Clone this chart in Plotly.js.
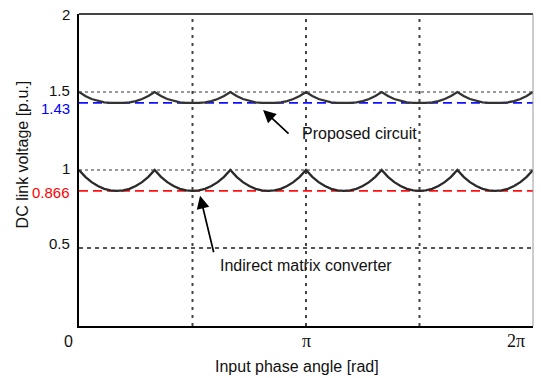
<!DOCTYPE html>
<html>
<head>
<meta charset="utf-8">
<script src="https://cdn.plot.ly/plotly-3.0.1.min.js"></script>
<style>html,body{margin:0;padding:0;background:#fff;}#chart{width:541px;height:378px;}</style>
</head>
<body>
<div id="chart"></div>
<script>
// Input phase angle samples, in degrees (0 .. 360, every 5 degrees)
const angleDeg = [0,5,10,15,20,25,30,35,40,45,50,55,60,65,70,75,80,85,90,95,100,105,110,115,120,
  125,130,135,140,145,150,155,160,165,170,175,180,185,190,195,200,205,210,215,220,225,230,235,240,
  245,250,255,260,265,270,275,280,285,290,295,300,305,310,315,320,325,330,335,340,345,350,355,360];

// DC link voltage of the proposed circuit [p.u.]
const proposedV = [1.500,1.474,1.455,1.442,1.434,1.430,1.429,1.430,1.434,1.442,1.455,1.474,
  1.500,1.474,1.455,1.442,1.434,1.430,1.429,1.430,1.434,1.442,1.455,1.474,
  1.500,1.474,1.455,1.442,1.434,1.430,1.429,1.430,1.434,1.442,1.455,1.474,
  1.500,1.474,1.455,1.442,1.434,1.430,1.429,1.430,1.434,1.442,1.455,1.474,
  1.500,1.474,1.455,1.442,1.434,1.430,1.429,1.430,1.434,1.442,1.455,1.474,
  1.500,1.474,1.455,1.442,1.434,1.430,1.429,1.430,1.434,1.442,1.455,1.474,
  1.500];

// DC link voltage of the indirect matrix converter [p.u.]
const imcV = [1.000,0.956,0.922,0.897,0.879,0.869,0.866,0.869,0.879,0.897,0.922,0.956,
  1.000,0.956,0.922,0.897,0.879,0.869,0.866,0.869,0.879,0.897,0.922,0.956,
  1.000,0.956,0.922,0.897,0.879,0.869,0.866,0.869,0.879,0.897,0.922,0.956,
  1.000,0.956,0.922,0.897,0.879,0.869,0.866,0.869,0.879,0.897,0.922,0.956,
  1.000,0.956,0.922,0.897,0.879,0.869,0.866,0.869,0.879,0.897,0.922,0.956,
  1.000,0.956,0.922,0.897,0.879,0.869,0.866,0.869,0.879,0.897,0.922,0.956,
  1.000];

// Reference (minimum) levels
const proposedMin = 1.43;
const imcMin = 0.866;

// Axis tick labels
const yTickVals = [2, 1.5, 1.43, 1, 0.866, 0.5];
const yTickText = ['2', '1.5', '1.43', '1', '0.866', '0.5'];
const yTickColors = ['#111', '#111', '#0000ff', '#111', '#ff0000', '#111'];
const yTickNudge = [0, 2, -6, 2, -2, 5];   // label offsets in px (as typeset in the reference)
const xTickVals = [0, Math.PI, 2 * Math.PI];
const xTickText = ['0', 'π', '2π'];
const xTickNudge = [-11, 0, -17];

// Grid levels
const hGridLight = [1.0, 1.5];
const hGridDark = [0.5];
const vGrid = [Math.PI / 2, Math.PI, 3 * Math.PI / 2];

const x = angleDeg.map(d => d * Math.PI / 180);
const xEnds = [0, 2 * Math.PI];

function mkFont(size, color, family) {
  return {family: family || 'Liberation Sans, Arial, sans-serif', size: size, color: color || '#111'};
}
const SERIF = 'Liberation Serif, Times New Roman, serif';

const traces = [
  {x: xEnds, y: [proposedMin, proposedMin], mode: 'lines',
   line: {color: '#1010ff', width: 1.8, dash: '9px,5px'}, hoverinfo: 'skip'},
  {x: xEnds, y: [imcMin, imcMin], mode: 'lines',
   line: {color: '#ff1010', width: 1.8, dash: '9px,5px'}, hoverinfo: 'skip'},
  {x: x, y: proposedV, mode: 'lines', line: {color: '#333333', width: 2.3}},
  {x: x, y: imcV, mode: 'lines', line: {color: '#2a2a2a', width: 2.3}}
];

const shapes = [];
hGridLight.forEach(v => shapes.push({type: 'line', xref: 'paper', yref: 'y', x0: 0, x1: 1, y0: v, y1: v,
  line: {color: '#777', width: 1.5, dash: '3px,3px'}, layer: 'below'}));
hGridDark.forEach(v => shapes.push({type: 'line', xref: 'paper', yref: 'y', x0: 0, x1: 1, y0: v, y1: v,
  line: {color: '#555', width: 2, dash: '4px,4px'}, layer: 'below'}));
vGrid.forEach(v => shapes.push({type: 'line', xref: 'x', yref: 'paper', x0: v, x1: v, y0: 0, y1: 1,
  line: {color: '#444', width: 2, dash: '3px,5px'}, layer: 'below'}));
// frame: top and right
shapes.push({type: 'line', xref: 'paper', yref: 'paper', x0: 0, x1: 1, y0: 1, y1: 1,
  line: {color: '#444', width: 2}});
shapes.push({type: 'line', xref: 'paper', yref: 'paper', x0: 1, x1: 1, y0: 0, y1: 1,
  line: {color: '#999', width: 1}});

const annotations = [];
// y tick labels
yTickVals.forEach((v, i) => annotations.push({
  xref: 'paper', yref: 'y', x: 0, xshift: -7, y: v, yshift: yTickNudge[i],
  text: yTickText[i], showarrow: false, font: mkFont(15, yTickColors[i]),
  xanchor: 'right', yanchor: 'middle'}));
// x tick labels
xTickVals.forEach((v, i) => annotations.push({
  xref: 'x', yref: 'paper', x: v, xshift: xTickNudge[i], y: 0, yshift: -15,
  text: xTickText[i], showarrow: false,
  font: i === 0 ? mkFont(16) : mkFont(18, '#111', SERIF),
  xanchor: 'center', yanchor: 'middle'}));
// axis titles
annotations.push({xref: 'paper', yref: 'paper', x: 0.48, y: 0, yshift: -40, text: 'Input phase angle [rad]',
  showarrow: false, font: mkFont(16), xanchor: 'center', yanchor: 'middle'});
annotations.push({xref: 'paper', yref: 'paper', x: 0, xshift: -57, y: 0.55, text: 'DC link voltage [p.u.]',
  showarrow: false, font: mkFont(16), textangle: -90, xanchor: 'center', yanchor: 'middle'});
// arrows
annotations.push({xref: 'x', yref: 'y', x: 2.547, y: 1.385, ax: 27, ay: 25, axref: 'pixel', ayref: 'pixel', text: '',
  showarrow: true, arrowhead: 2, arrowsize: 1.5, arrowwidth: 1.7, arrowcolor: '#000'});
annotations.push({xref: 'x', yref: 'y', x: 1.675, y: 0.835, ax: 14, ay: 58, axref: 'pixel', ayref: 'pixel', text: '',
  showarrow: true, arrowhead: 2, arrowsize: 1.5, arrowwidth: 1.7, arrowcolor: '#000'});
annotations.push({xref: 'x', yref: 'y', x: 3.06, y: 1.237, text: 'Proposed circuit', showarrow: false,
  font: mkFont(16), xanchor: 'left', yanchor: 'middle'});
annotations.push({xref: 'x', yref: 'y', x: 1.93, y: 0.391, text: 'Indirect matrix converter', showarrow: false,
  font: mkFont(16), xanchor: 'left', yanchor: 'middle'});

const layout = {
  width: 541, height: 378,
  margin: {l: 79, r: 8, t: 14, b: 52},
  paper_bgcolor: '#fff', plot_bgcolor: '#fff',
  showlegend: false,
  font: mkFont(15),
  xaxis: {range: [0, 2 * Math.PI], showgrid: false, zeroline: false, showline: true,
          linecolor: '#000', linewidth: 2, showticklabels: false, ticks: ''},
  yaxis: {range: [0, 2], showgrid: false, zeroline: false, showline: true,
          linecolor: '#000', linewidth: 2, showticklabels: false, ticks: ''},
  shapes: shapes,
  annotations: annotations
};

Plotly.newPlot('chart', traces, layout, {displayModeBar: false, staticPlot: true});
</script>
</body>
</html>
